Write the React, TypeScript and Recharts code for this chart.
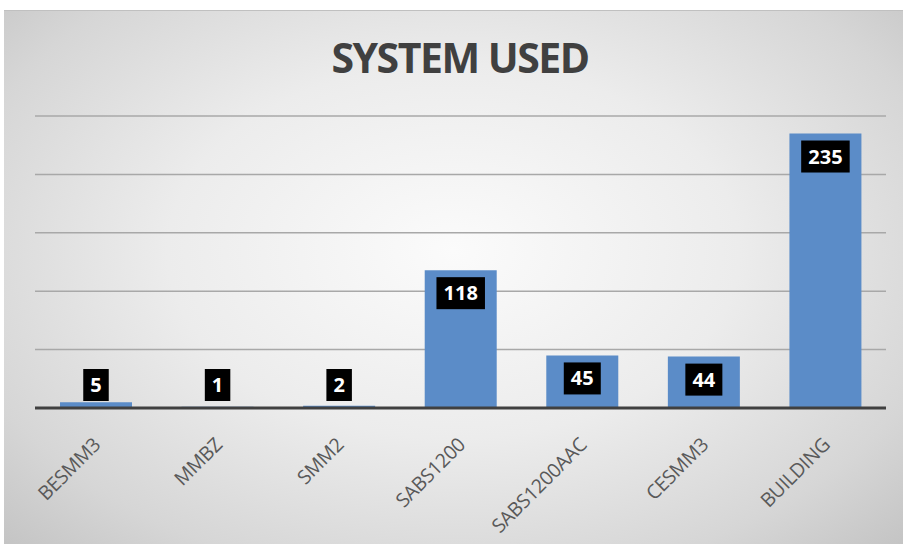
import React from 'react';
import { BarChart, Bar, XAxis, YAxis, CartesianGrid, LabelList } from 'recharts';

const systems = ['BESMM3', 'MMBZ', 'SMM2', 'SABS1200', 'SABS1200AAC', 'CESMM3', 'BUILDING'];
const counts = [5, 1, 2, 118, 45, 44, 235];
const gridTicks = [0, 50, 100, 150, 200, 250];

const data = systems.map((name, i) => ({ name, count: counts[i] }));

// black box with white number, sits inside the top of the bar (or just above the baseline for short bars)
const BoxLabel = (props: any) => {
  const { x, y, width, height, value } = props;
  const text = String(value);
  const w = 14 + text.length * 11.5;
  const h = 32;
  const base = y + height;
  const top = Math.min(y + 7, base - 7 - h);
  const cx = x + width / 2;
  return (
    <g>
      <rect x={cx - w / 2} y={top} width={w} height={h} fill="#000" />
      <text
        x={cx}
        y={top + h / 2 + 7}
        textAnchor="middle"
        fill="#fff"
        fontSize={20}
        fontWeight="bold"
        fontFamily="'Open Sans', sans-serif"
      >
        {text}
      </text>
    </g>
  );
};

const AngledTick = (props: any) => {
  const { x, y, payload } = props;
  return (
    <g transform={`translate(${x + 6},${y + 30})`}>
      <text
        transform="rotate(-45)"
        textAnchor="end"
        fill="#595959"
        fontSize={19.5}
        letterSpacing={-0.3}
        fontFamily="'Open Sans', sans-serif"
      >
        {payload.value}
      </text>
    </g>
  );
};

export default function App() {
  return (
    <div style={{ position: 'absolute', left: 0, top: 0, width: 903, height: 544, background: '#fff' }}>
      <div
        style={{
          position: 'absolute',
          left: 4,
          top: 10,
          width: 899,
          height: 534,
          borderTop: '1px solid #c0c0c0',
          background: 'radial-gradient(ellipse at 50% 45%, #fbfbfb 0%, #ececec 45%, #d6d6d6 80%, #c4c4c4 100%)',
        }}
      />
      <div
        style={{
          position: 'absolute',
          left: 0,
          top: 29,
          width: 920,
          textAlign: 'center',
          fontFamily: "'Open Sans', sans-serif",
          fontWeight: 'bold',
          fontSize: 41,
          letterSpacing: -1.5,
          color: '#404040',
        }}
      >
        SYSTEM USED
      </div>
      <div style={{ position: 'absolute', left: 0, top: 0 }}>
        <BarChart
          width={903}
          height={544}
          data={data}
          margin={{ top: 116, right: 17, left: 35, bottom: 16 }}
        >
          <CartesianGrid vertical={false} stroke="#a8a8a8" strokeWidth={1.5} />
          <YAxis hide domain={[0, 250]} ticks={gridTicks} />
          <XAxis
            dataKey="name"
            height={120}
            interval={0}
            tickLine={false}
            axisLine={{ stroke: '#404040', strokeWidth: 3 }}
            tick={<AngledTick />}
          />
          <Bar dataKey="count" fill="#5b8cc8" barSize={72} isAnimationActive={false}>
            <LabelList dataKey="count" content={<BoxLabel />} />
          </Bar>
        </BarChart>
      </div>
    </div>
  );
}
